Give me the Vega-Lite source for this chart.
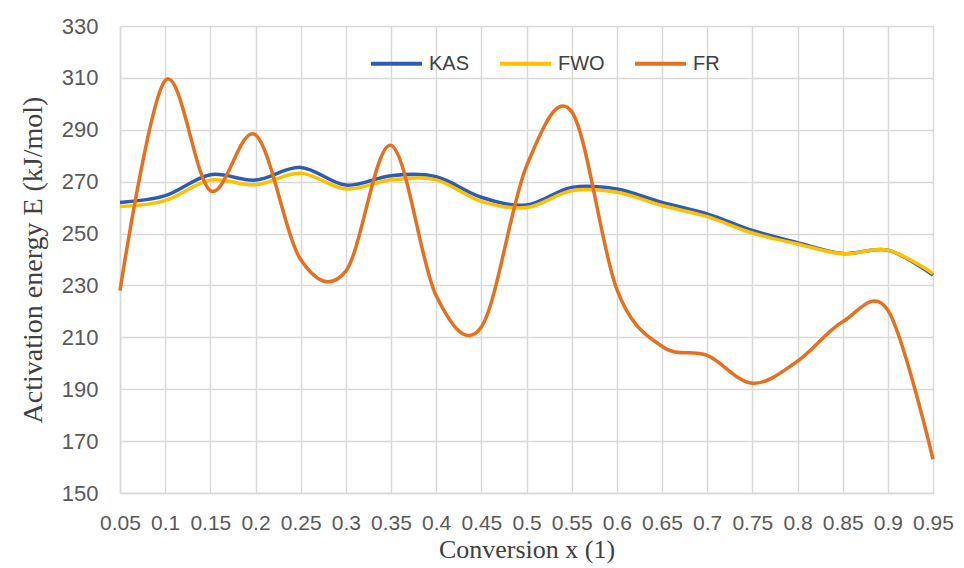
{
  "$schema": "https://vega.github.io/schema/vega-lite/v6.json",
  "width": 813,
  "height": 467,
  "autosize": "none",
  "padding": {"left": 120, "top": 26, "right": 31, "bottom": 75},
  "background": "white",
  "data": {"values": [
    {"x": 0.05, "method": "KAS", "E": 262},
    {"x": 0.1, "method": "KAS", "E": 264.6},
    {"x": 0.15, "method": "KAS", "E": 272.7},
    {"x": 0.2, "method": "KAS", "E": 270.6},
    {"x": 0.25, "method": "KAS", "E": 275.5},
    {"x": 0.3, "method": "KAS", "E": 268.7},
    {"x": 0.35, "method": "KAS", "E": 272.3},
    {"x": 0.4, "method": "KAS", "E": 271.9},
    {"x": 0.45, "method": "KAS", "E": 264},
    {"x": 0.5, "method": "KAS", "E": 261},
    {"x": 0.55, "method": "KAS", "E": 267.8},
    {"x": 0.6, "method": "KAS", "E": 267.2},
    {"x": 0.65, "method": "KAS", "E": 262},
    {"x": 0.7, "method": "KAS", "E": 257.6},
    {"x": 0.75, "method": "KAS", "E": 251.2},
    {"x": 0.8, "method": "KAS", "E": 246.5},
    {"x": 0.85, "method": "KAS", "E": 242.3},
    {"x": 0.9, "method": "KAS", "E": 243.6},
    {"x": 0.95, "method": "KAS", "E": 234},
    {"x": 0.05, "method": "FWO", "E": 260.4},
    {"x": 0.1, "method": "FWO", "E": 262.7},
    {"x": 0.15, "method": "FWO", "E": 270.6},
    {"x": 0.2, "method": "FWO", "E": 268.8},
    {"x": 0.25, "method": "FWO", "E": 273.2},
    {"x": 0.3, "method": "FWO", "E": 267.2},
    {"x": 0.35, "method": "FWO", "E": 270.7},
    {"x": 0.4, "method": "FWO", "E": 270.7},
    {"x": 0.45, "method": "FWO", "E": 262.4},
    {"x": 0.5, "method": "FWO", "E": 260},
    {"x": 0.55, "method": "FWO", "E": 266.5},
    {"x": 0.6, "method": "FWO", "E": 265.9},
    {"x": 0.65, "method": "FWO", "E": 260.8},
    {"x": 0.7, "method": "FWO", "E": 256.5},
    {"x": 0.75, "method": "FWO", "E": 250.2},
    {"x": 0.8, "method": "FWO", "E": 246},
    {"x": 0.85, "method": "FWO", "E": 242.2},
    {"x": 0.9, "method": "FWO", "E": 243.6},
    {"x": 0.95, "method": "FWO", "E": 234.6},
    {"x": 0.05, "method": "FR", "E": 228},
    {"x": 0.1, "method": "FR", "E": 309},
    {"x": 0.15, "method": "FR", "E": 266.5},
    {"x": 0.2, "method": "FR", "E": 288},
    {"x": 0.25, "method": "FR", "E": 240},
    {"x": 0.3, "method": "FR", "E": 235.5},
    {"x": 0.35, "method": "FR", "E": 284},
    {"x": 0.4, "method": "FR", "E": 226},
    {"x": 0.45, "method": "FR", "E": 214},
    {"x": 0.5, "method": "FR", "E": 276},
    {"x": 0.55, "method": "FR", "E": 297},
    {"x": 0.6, "method": "FR", "E": 228.5},
    {"x": 0.65, "method": "FR", "E": 206.5},
    {"x": 0.7, "method": "FR", "E": 203},
    {"x": 0.75, "method": "FR", "E": 192.3},
    {"x": 0.8, "method": "FR", "E": 200.8},
    {"x": 0.85, "method": "FR", "E": 216},
    {"x": 0.9, "method": "FR", "E": 220.5},
    {"x": 0.95, "method": "FR", "E": 163}
  ]},
  "mark": {"type": "line", "interpolate": "cardinal", "strokeWidth": 3.5},
  "encoding": {
    "x": {
      "field": "x", "type": "quantitative",
      "scale": {"domain": [0.05, 0.95], "nice": false, "zero": false},
      "axis": {
        "title": "Conversion x (1)",
        "values": [0.05, 0.1, 0.15, 0.2, 0.25, 0.3, 0.35, 0.4, 0.45, 0.5, 0.55, 0.6, 0.65, 0.7, 0.75, 0.8, 0.85, 0.9, 0.95],
        "format": "~g",
        "labelOverlap": false,
        "labelFlush": false,
        "labelBound": false,
        "labelFontSize": 21,
        "labelPadding": 19,
        "titlePadding": 3
      }
    },
    "y": {
      "field": "E", "type": "quantitative",
      "scale": {"domain": [150, 330], "nice": false, "zero": false},
      "axis": {
        "title": "Activation energy E (kJ/mol)",
        "values": [150, 170, 190, 210, 230, 250, 270, 290, 310, 330],
        "labelOverlap": false,
        "labelFlush": false,
        "labelPadding": 22,
        "titlePadding": 14,
        "titleFontSize": 28
      }
    },
    "color": {
      "field": "method", "type": "nominal",
      "scale": {"domain": ["KAS", "FWO", "FR"], "range": ["#2E5CB4", "#FFC000", "#E47020"]},
      "legend": {
        "title": null,
        "orient": "none",
        "legendX": 249,
        "legendY": 10,
        "direction": "horizontal",
        "symbolType": "stroke",
        "symbolSize": 2600,
        "symbolStrokeWidth": 4,
        "labelOffset": 5,
        "columnPadding": 22,
        "labelFont": "Liberation Sans",
        "labelFontSize": 20,
        "labelColor": "#404040"
      }
    }
  },
  "config": {
    "view": {"stroke": null},
    "axis": {
      "grid": true,
      "gridColor": "#d9d9d9",
      "gridWidth": 1.5,
      "domainColor": "#d9d9d9",
      "domainWidth": 1.5,
      "ticks": false,
      "labelFont": "Liberation Sans",
      "labelFontSize": 22,
      "labelColor": "#595959",
      "titleFont": "Liberation Serif",
      "titleFontSize": 26,
      "titleFontWeight": "normal",
      "titleColor": "#404040"
    }
  }
}
